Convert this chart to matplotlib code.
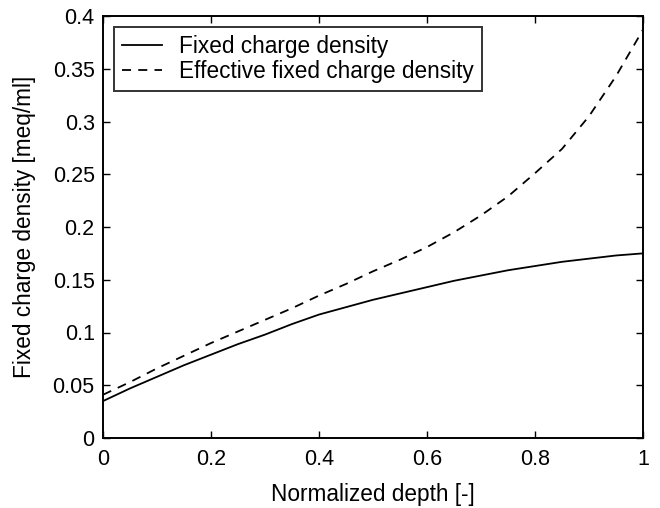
import numpy as np
import matplotlib
matplotlib.use('Agg')
import matplotlib.pyplot as plt

# normalized depth and the two density profiles
depth = [0.0, 0.05, 0.1, 0.15, 0.2, 0.25, 0.3, 0.35, 0.4, 0.45, 0.5,
         0.55, 0.6, 0.65, 0.7, 0.75, 0.8, 0.85, 0.9, 0.95, 1.0]
fcd = [0.035, 0.047, 0.058, 0.069, 0.079, 0.089, 0.098, 0.108, 0.117, 0.124, 0.131,
       0.137, 0.143, 0.149, 0.154, 0.159, 0.163, 0.167, 0.170, 0.173, 0.175]
fcd_eff = [0.041, 0.053, 0.066, 0.078, 0.090, 0.101, 0.112, 0.123, 0.135, 0.146, 0.158,
           0.169, 0.181, 0.195, 0.211, 0.229, 0.251, 0.274, 0.305, 0.343, 0.387]

xticks = [0, 0.2, 0.4, 0.6, 0.8, 1]
yticks = [0, 0.05, 0.1, 0.15, 0.2, 0.25, 0.3, 0.35, 0.4]
xticklabels = ['0', '0.2', '0.4', '0.6', '0.8', '1']
yticklabels = ['0', '0.05', '0.1', '0.15', '0.2', '0.25', '0.3', '0.35', '0.4']

plt.rcParams['font.family'] = ['Liberation Sans', 'DejaVu Sans']

fig = plt.figure(figsize=(6.6, 5.08), dpi=100)
ax = fig.add_axes([103/660, 1 - 438/508, 540/660, 422/508])

ax.plot(depth, fcd, color='black', linewidth=1.3, label='Fixed charge density')
ax.plot(depth, fcd_eff, color='black', linewidth=1.3, linestyle=(0, (5, 4)),
        label='Effective fixed charge density')

ax.set_xlim(0, 1)
ax.set_ylim(0, 0.4)
ax.set_xticks(xticks)
ax.set_xticklabels(xticklabels)
ax.set_yticks(yticks)
ax.set_yticklabels(yticklabels)
ax.tick_params(direction='in', length=5, width=1, top=True, right=True, labelsize=15.5)
ax.tick_params(axis='x', pad=8)
ax.tick_params(axis='y', pad=6)
for s in ax.spines.values():
    s.set_linewidth(1.4)

ax.set_xlabel('Normalized depth [-]', fontsize=16.3, labelpad=9)
ax.set_ylabel('Fixed charge density [meq/ml]', fontsize=16.3, labelpad=12)

leg = ax.legend(loc='upper left', prop={'size': 16.3}, frameon=True, fancybox=False,
                edgecolor='black', borderaxespad=0.5, handlelength=1.75,
                handletextpad=0.75, labelspacing=0.08, borderpad=0.35)
leg.get_frame().set_linewidth(1.4)

fig.savefig('out.png', dpi=100)
